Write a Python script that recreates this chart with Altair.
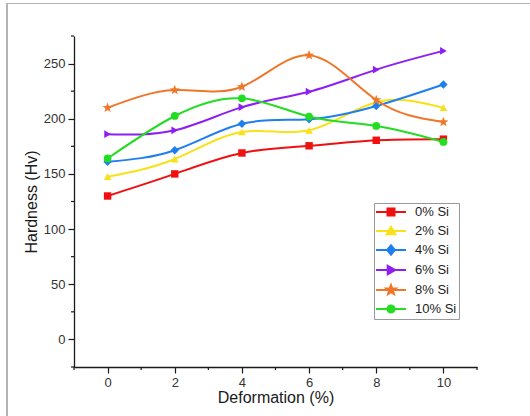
import math
import altair as alt
import pandas as pd

# Vickers hardness against cold deformation for six silicon contents
deformation = [0, 2, 4, 6, 8, 10]
series_names = ["0% Si", "2% Si", "4% Si", "6% Si", "8% Si", "10% Si"]
hv_0 = [130, 150, 169, 175.5, 180.5, 181.5]
hv_2 = [147.5, 163.5, 188, 189.5, 215, 210]
hv_4 = [161, 171.5, 195.5, 199.5, 211.5, 231]
hv_6 = [186, 189.5, 210.5, 224.5, 244.5, 261.5]
hv_8 = [210, 226, 229, 257.5, 217, 197]
hv_10 = [164, 202.5, 218.5, 202, 193.5, 179]

x_major = [0, 2, 4, 6, 8, 10]
x_minor = [-1, 1, 3, 5, 7, 9, 11]
y_major = [0, 50, 100, 150, 200, 250]
y_minor = [-25, 25, 75, 125, 175, 225, 275]

colors = ["#f01010", "#f7e21a", "#1f7ef0", "#8d1ff0", "#f0762a", "#22dd22"]


def poly(points, k=1.0):
    return "M" + "L".join(f"{x * k:.3f},{y * k:.3f}" for x, y in points) + "Z"


def star_pts(r_out, r_in):
    pts = []
    for i in range(10):
        r = r_out if i % 2 == 0 else r_in
        a = -math.pi / 2 + i * math.pi / 5
        pts.append((r * math.cos(a), r * math.sin(a)))
    return pts


def circle_pts(r, n=16):
    return [(r * math.cos(2 * math.pi * i / n), r * math.sin(2 * math.pi * i / n))
            for i in range(n)]


marker_shapes = ["square", "triangle-up", "diamond", "triangle-right",
                 poly(star_pts(1.0, 0.42)), "circle"]
marker_sizes = [55, 60, 70, 60, 110, 60]

# legend glyphs (pixel units, rescaled to the symbol's unit box):
# a 30 px line with the series marker in the middle
LEG_SIZE = 144
k = 2 / math.sqrt(LEG_SIZE)
glyph_markers = [
    [(-3.5, -3.5), (3.5, -3.5), (3.5, 3.5), (-3.5, 3.5)],
    [(0, -4.2), (4.3, 3.3), (-4.3, 3.3)],
    [(0, -4.6), (3.9, 0), (0, 4.6), (-3.9, 0)],
    [(-3.3, -4.2), (4.2, 0), (-3.3, 4.2)],
    star_pts(5.0, 2.1),
    circle_pts(3.6),
]
legend_paths = [f"M{-15 * k:.3f},0L{15 * k:.3f},0" + poly(m, k) for m in glyph_markers]

shape_expr = "'circle'"
for n, p in reversed(list(zip(series_names, legend_paths))):
    shape_expr = f"datum.value === '{n}' ? '{p}' : ({shape_expr})"

rows = []
for name, vals in zip(series_names,
                      [hv_0, hv_2, hv_4, hv_6, hv_8, hv_10]):
    for d, v in zip(deformation, vals):
        rows.append({"Deformation": d, "Hardness": v, "Series": name})
df = pd.DataFrame(rows)

W, H = 403, 331
x_scale = alt.Scale(domain=[-1, 11], nice=False, zero=False)
y_scale = alt.Scale(domain=[-25, 275], nice=False, zero=False)
color_scale = alt.Scale(domain=series_names, range=colors)

x_axis = alt.Axis(
    values=x_major, tickSize=6, labelPadding=3, grid=False,
    title="Deformation (%)", titlePadding=0,
)
y_axis = alt.Axis(
    values=y_major, tickSize=6, labelPadding=3, grid=False,
    title="Hardness (Hv)", titlePadding=4,
)
x_enc = alt.X("Deformation:Q", scale=x_scale, axis=x_axis)
y_enc = alt.Y("Hardness:Q", scale=y_scale, axis=y_axis)

legend_def = alt.Legend(
    title=None, orient="none", legendX=300, legendY=167,
    symbolSize=LEG_SIZE, symbolStrokeWidth=2, symbolOffset=8, symbolOpacity=1,
    symbolType={"expr": shape_expr},
    symbolFillColor={"expr": "scale('color', datum.value)"},
    symbolStrokeColor={"expr": "scale('color', datum.value)"},
    rowPadding=2, labelOffset=17, labelFontSize=13, labelFont="Liberation Sans",
    labelColor="#222222", padding=2, strokeColor="#999999", fillColor="white",
)

base = alt.Chart(df).encode(
    x=x_enc, y=y_enc,
    color=alt.Color("Series:N", scale=color_scale, legend=legend_def),
)

lines = base.mark_line(interpolate="natural", strokeWidth=2)

point_layers = [
    base.transform_filter(alt.datum.Series == name).mark_point(
        filled=True, shape=shp, size=sz, opacity=1
    )
    for name, shp, sz in zip(series_names, marker_shapes, marker_sizes)
]

# minor ticks, placed through the axis scales
x_minor_ticks = alt.Chart(pd.DataFrame({"Deformation": x_minor})).mark_rule(
    color="#1a1a1a", strokeWidth=1.2, clip=False
).encode(
    x=x_enc, y=alt.value(H), y2=alt.value(H + 3),
)
y_minor_ticks = alt.Chart(pd.DataFrame({"Hardness": y_minor})).mark_rule(
    color="#1a1a1a", strokeWidth=1.2, clip=False
).encode(
    y=y_enc, x=alt.value(0), x2=alt.value(-3),
)

# thin grey frame along the left and top of the figure
frame_left = alt.Chart(df).mark_rule(color="#b4b4b4", strokeWidth=1.2, clip=False).encode(
    x=alt.value(-67), y=alt.value(-32.5), y2=alt.value(400)
)
frame_top = alt.Chart(df).mark_rule(color="#b4b4b4", strokeWidth=1.2, clip=False).encode(
    x=alt.value(-67), x2=alt.value(470), y=alt.value(-32.5)
)

chart = alt.layer(
    lines, *point_layers, x_minor_ticks, y_minor_ticks,
    frame_left, frame_top
).properties(
    width=W, height=H,
    autosize=alt.AutoSizeParams(type="none"),
    padding={"left": 74, "top": 36, "right": 53, "bottom": 49},
    background="white",
).configure_view(
    stroke=None
).configure_axis(
    domainColor="#1a1a1a", domainWidth=1.3, tickColor="#1a1a1a", tickWidth=1.2,
    labelFont="Liberation Sans", labelFontSize=13, labelColor="#333333",
    titleFont="Liberation Sans", titleFontSize=16, titleFontWeight="normal",
    titleColor="#1a1a1a",
)

chart.save("out.html", embed_options={"renderer": "svg", "actions": False})
